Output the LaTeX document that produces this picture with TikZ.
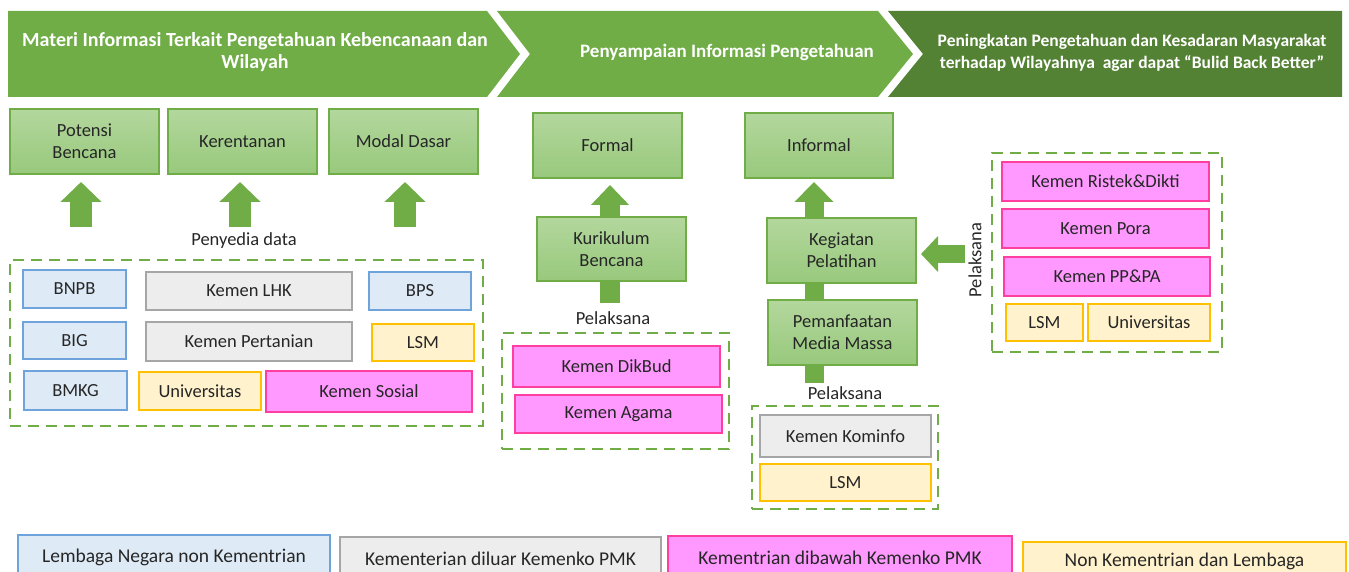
\documentclass[tikz,border=0pt]{standalone}
\usepackage{fontspec}
\setmainfont{Carlito}
\usetikzlibrary{arrows.meta,backgrounds}
\definecolor{hgreen}{HTML}{70AD47}
\definecolor{hdark}{HTML}{548235}
\definecolor{gtop}{HTML}{B3D79D}
\definecolor{gbot}{HTML}{98C97C}
\definecolor{bfill}{HTML}{DEEBF7}
\definecolor{bline}{HTML}{6FA3DC}
\definecolor{grfill}{HTML}{EDEDED}
\definecolor{grline}{HTML}{A6A6A6}
\definecolor{pfill}{HTML}{FF99FF}
\definecolor{pline}{HTML}{FF3F9F}
\definecolor{yfill}{HTML}{FFF2CC}
\definecolor{yline}{HTML}{FFC000}
\definecolor{txt}{HTML}{262626}
\begin{document}
\begin{tikzpicture}[x=1pt,y=-1pt,
  every node/.style={font=\fontsize{18.5}{22}\selectfont, text=txt, inner sep=0pt},
  gbox/.style={draw=hgreen, line width=1.3pt, top color=gtop, bottom color=gbot, align=center},
  bluebox/.style={draw=bline, fill=bfill, line width=1.3pt},
  graybox/.style={draw=grline, fill=grfill, line width=1.3pt},
  pinkbox/.style={draw=pline, fill=pfill, line width=1.3pt},
  yelbox/.style={draw=yline, fill=yfill, line width=1.3pt},
  grp/.style={draw=hgreen, line width=2.6pt, dash pattern=on 11pt off 7pt},
  head/.style={text=white, align=center, font=\bfseries\fontsize{19}{22}\selectfont},
  legend/.style={font=\fontsize{19.5}{22}\selectfont},
  fatarrow/.style n args={3}{draw=hgreen, line width=#1, -{Triangle[width=#2,length=#3]}},
  sz/.style 2 args={minimum width=#1, minimum height=#2}
]
\path[use as bounding box, clip] (0,0) rectangle (1349,572);

% header chevrons
\fill[hgreen] (8,11) -- (487,11) -- (520,54) -- (487,97) -- (8,97) -- cycle;
\fill[hgreen] (497,11) -- (878,11) -- (913,54) -- (878,97) -- (497,97) -- (530,54) -- cycle;
\fill[hdark] (888,11) -- (1342,11) -- (1342,97) -- (888,97) -- (923,54) -- cycle;
\node[head, font=\bfseries\fontsize{20}{22}\selectfont] (h1) at (255,52) {Materi Informasi Terkait Pengetahuan Kebencanaan dan\\Wilayah};
\node[head] (h2) at (727,52) {Penyampaian Informasi Pengetahuan};
\node[head, font=\bfseries\fontsize{17.5}{22}\selectfont] (h3) at (1132,53) {Peningkatan Pengetahuan dan Kesadaran Masyarakat\\terhadap Wilayahnya \ agar dapat “Bulid Back Better”};

% green boxes
\node[gbox, sz={149pt}{65pt}] (pot) at (84.5,141.5) {Potensi\\Bencana};
\node[gbox, sz={149pt}{65pt}] (ker) at (242.5,141.5) {Kerentanan};
\node[gbox, sz={149pt}{65pt}] (mod) at (403.5,141.5) {Modal Dasar};
\node[gbox, sz={149pt}{65pt}] (formal) at (607.5,145.5) {Formal};
\node[gbox, sz={148pt}{65pt}] (informal) at (819,145.5) {Informal};
\node[gbox, sz={149pt}{64pt}] (kur) at (611.5,249) {Kurikulum\\Bencana};
\node[gbox, sz={149pt}{65pt}] (keg) at (841.5,250.5) {Kegiatan\\Pelatihan};
\node[gbox, sz={149pt}{65pt}] (pem) at (842.5,332.5) {Pemanfaatan\\Media Massa};

% labels
\node (pen) at (244,241) {Penyedia data};
\node (pel1) at (613,318) {Pelaksana};
\node (pel2) at (845,393) {Pelaksana};
\node[rotate=90] (pel3) at (975,260) {Pelaksana};

% group 1
\node[grp, sz={473pt}{166pt}] (g1) at (246.5,343) {};
\node[bluebox, sz={103pt}{38pt}] (bnpb) at (74.5,289) {BNPB};
\node[graybox, sz={206pt}{38pt}] (lhk) at (249,291) {Kemen LHK};
\node[bluebox, sz={102pt}{38pt}] (bps) at (420,291) {BPS};
\node[bluebox, sz={103pt}{37pt}] (big) at (74.5,340.5) {BIG};
\node[graybox, sz={206pt}{39pt}] (pert) at (249,341.5) {Kemen Pertanian};
\node[yelbox, sz={102pt}{37pt}] (lsma) at (423,342.5) {LSM};
\node[bluebox, sz={103pt}{39pt}] (bmkg) at (75.5,390.5) {BMKG};
\node[yelbox, sz={122pt}{38pt}] (univa) at (200,391) {Universitas};
\node[pinkbox, sz={206pt}{41pt}] (sos) at (369,391.5) {Kemen Sosial};

% group 2
\node[grp, sz={227pt}{116pt}] (g2) at (615.5,391) {};
\node[pinkbox, sz={207pt}{41pt}] (dik) at (616.5,366.5) {Kemen DikBud};
\node[pinkbox, sz={207pt}{38pt}] (aga) at (618.5,414) {Kemen Agama};

% group 3
\node[grp, sz={186pt}{103pt}] (g3) at (845,457.5) {};
\node[graybox, sz={171pt}{42pt}] (kom) at (845.5,436) {Kemen Kominfo};
\node[yelbox, sz={171pt}{37pt}] (lsmb) at (845.5,482.5) {LSM};

% group 4
\node[grp, sz={230pt}{199pt}] (g4) at (1107,252.5) {};
\node[pinkbox, sz={207pt}{39pt}] (ris) at (1105.5,181.5) {Kemen Ristek\&Dikti};
\node[pinkbox, sz={207pt}{39pt}] (pora) at (1105.5,228.5) {Kemen Pora};
\node[pinkbox, sz={206pt}{39pt}] (pppa) at (1107,276.5) {Kemen PP\&PA};
\node[yelbox, sz={77pt}{37pt}] (lsmc) at (1044.5,322.5) {LSM};
\node[yelbox, sz={122pt}{37pt}] (univc) at (1149,322.5) {Universitas};

% arrows
\coordinate (a1s) at (81,227); \coordinate (a1e) at (81,182);
\coordinate (a2s) at (240,227); \coordinate (a2e) at (240,182);
\coordinate (a3s) at (405,227); \coordinate (a3e) at (405,182);
\coordinate (a4s) at (610,303); \coordinate (a4e) at (610,185);
\coordinate (a5s) at (814,383); \coordinate (a5e) at (814,182);
\coordinate (a6s) at (965,254); \coordinate (a6e) at (921,254);
\draw[fatarrow={22pt}{40pt}{20pt}] (a1s) -- (a1e);
\draw[fatarrow={22pt}{40pt}{20pt}] (a2s) -- (a2e);
\draw[fatarrow={22pt}{40pt}{20pt}] (a3s) -- (a3e);
\draw[fatarrow={18pt}{35pt}{17pt}] (a6s) -- (a6e);
\begin{scope}[on background layer]
\draw[fatarrow={20pt}{37pt}{20pt}] (a4s) -- (a4e);
\draw[fatarrow={19pt}{38pt}{20pt}] (a5s) -- (a5e);
\end{scope}

% legend
\node[bluebox, legend, sz={312pt}{45pt}] (l1) at (174,557.5) {Lembaga Negara non Kementrian};
\node[graybox, legend, sz={321pt}{43pt}] (l2) at (500.5,558.5) {Kementerian diluar Kemenko PMK};
\node[pinkbox, legend, sz={344pt}{44pt}] (l3) at (840,558) {Kementrian dibawah Kemenko PMK};
\node[yelbox, legend, sz={323pt}{38pt}] (l4) at (1184.5,561) {Non Kementrian dan Lembaga};
\end{tikzpicture}
\end{document}
